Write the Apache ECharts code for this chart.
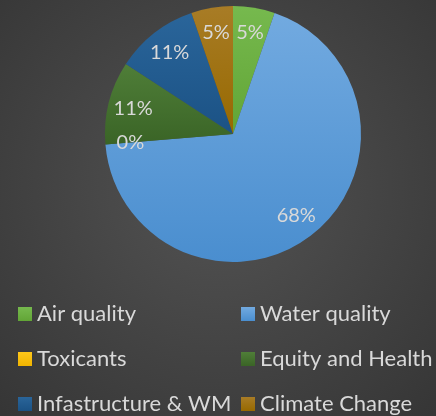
<!DOCTYPE html>
<html>
<head>
<meta charset="utf-8">
<script src="https://cdn.jsdelivr.net/npm/echarts@6/dist/echarts.min.js"></script>
<style>
  html, body { margin: 0; padding: 0; }
  #chart { width: 436px; height: 416px; }
</style>
</head>
<body>
<div id="chart"></div>
<script>
var categories = ['Air quality', 'Water quality', 'Toxicants', 'Equity and Health', 'Infastructure & WM', 'Climate Change'];
var counts = [1, 13, 0, 2, 2, 1];
var colorsTop = ['#76b94e', '#72aae0', '#ffc71a', '#4f7e38', '#2a659a', '#a87c26'];
var colorsBottom = ['#62a536', '#4a8ecf', '#f0b400', '#3a6426', '#1b5285', '#976900'];
var legendLeft = ['Air quality', 'Toxicants', 'Infastructure & WM'];
var legendRight = ['Water quality', 'Equity and Health', 'Climate Change'];

var pieData = categories.map(function (name, i) {
    return {
        name: name,
        value: counts[i],
        itemStyle: {
            color: new echarts.graphic.LinearGradient(0, 0, 0, 1, [
                {offset: 0, color: colorsTop[i]},
                {offset: 1, color: colorsBottom[i]}
            ])
        }
    };
});

var chart = echarts.init(document.getElementById('chart'));

var legendBase = {
    orient: 'vertical',
    top: 302,
    padding: 0,
    itemWidth: 14,
    itemHeight: 14,
    itemGap: 21,
    icon: 'rect',
    textStyle: {color: '#d9d9d9', fontSize: 22, lineHeight: 24, fontFamily: 'Lato', padding: [0, 0, 0, 0]}
};

var option = {
    backgroundColor: new echarts.graphic.RadialGradient(0.5, 0.45, 0.75, [
        {offset: 0, color: '#535353'},
        {offset: 1, color: '#363636'}
    ]),
    animation: false,
    legend: [
        Object.assign({}, legendBase, {left: 18, data: legendLeft}),
        Object.assign({}, legendBase, {left: 241, data: legendRight})
    ],
    series: [{
        type: 'pie',
        center: [233, 134],
        radius: 128,
        startAngle: 90,
        clockwise: true,
        data: pieData,
        stillShowZeroSum: true,
        minShowLabelAngle: -1,
        label: {show: false},
        labelLine: {show: false},
        itemStyle: {borderWidth: 0}
    }, {
        // transparent ring only used to place labels at ~0.78 of the radius
        type: 'pie',
        center: [233, 134],
        radius: [72, 128],
        startAngle: 90,
        clockwise: true,
        silent: true,
        data: pieData.map(function (d) { return {name: d.name, value: d.value}; }),
        itemStyle: {color: 'rgba(0,0,0,0)'},
        emphasis: {disabled: true},
        legendHoverLink: false,
        label: {
            show: true,
            position: 'inside',
            formatter: function (p) { return Math.round(p.percent) + '%'; },
            color: '#d9d9d9',
            fontSize: 20,
            fontFamily: 'Lato'
        },
        labelLine: {show: false}
    }]
};

chart.setOption(option);
</script>
</body>
</html>
